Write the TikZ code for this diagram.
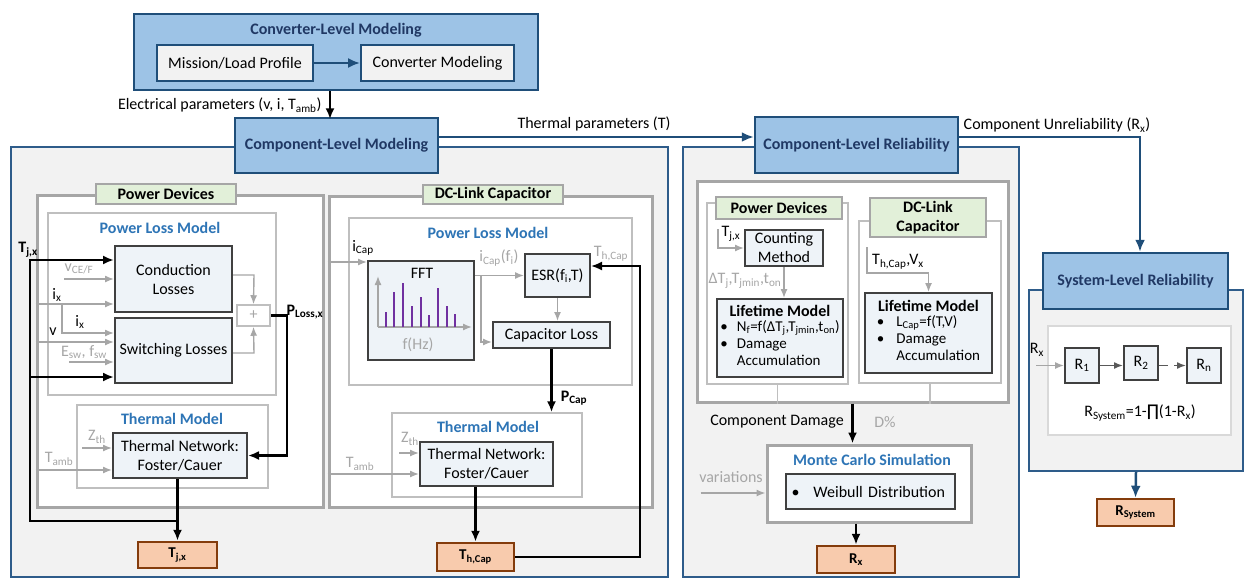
\documentclass[tikz,border=0pt]{standalone}
\usepackage{fontspec}
\setmainfont{Carlito}
\newfontfamily\symfont{DejaVu Sans}
\usetikzlibrary{arrows.meta,positioning}

\definecolor{hdrfill}{HTML}{9DC3E6}
\definecolor{hdrline}{HTML}{1F4E79}
\definecolor{hdrtext}{HTML}{203864}
\definecolor{pnlfill}{HTML}{F2F2F2}
\definecolor{pnlline}{HTML}{2E5C8A}
\definecolor{frmgray}{HTML}{A6A6A6}
\definecolor{litegray}{HTML}{BFBFBF}
\definecolor{syslight}{HTML}{D9D9D9}
\definecolor{tagfill}{HTML}{E2F0D9}
\definecolor{boxfill}{HTML}{EEF3F8}
\definecolor{boxline}{HTML}{404040}
\definecolor{outfill}{HTML}{F8CBAD}
\definecolor{outline}{HTML}{843C0C}
\definecolor{ttlblue}{HTML}{2E75B6}
\definecolor{sigray}{HTML}{A6A6A6}
\definecolor{darkgray}{HTML}{595959}
\definecolor{barpurple}{HTML}{7030A0}

\tikzset{
    sz/.style 2 args={
        minimum width=#1pt,
        minimum height=#2pt}
}

\begin{document}
\begin{tikzpicture}[x=1pt, y=-1pt,
        header/.style={
            rectangle,
            draw=hdrline, line width=2.5pt,
            fill=hdrfill,
            text=hdrtext, font=\bfseries,
            inner sep=0pt},
        convstep/.style={
            rectangle,
            draw=hdrline, line width=2pt,
            fill=pnlfill,
            inner sep=0pt},
        panel/.style={
            rectangle,
            draw=pnlline, line width=1.6pt,
            fill=pnlfill,
            inner sep=0pt},
        grayframe/.style={
            rectangle,
            draw=frmgray, line width=3pt,
            fill=white,
            inner sep=0pt},
        thinframe/.style={
            rectangle,
            draw=litegray, line width=1.5pt,
            fill=white,
            inner sep=0pt},
        tagbox/.style={
            rectangle,
            draw=frmgray, line width=1.5pt,
            fill=tagfill,
            font=\bfseries, align=center,
            inner sep=0pt},
        box/.style={
            rectangle,
            draw=boxline, line width=2pt,
            fill=boxfill,
            align=center,
            inner sep=0pt},
        outbox/.style={
            rectangle,
            draw=outline, line width=2.5pt,
            fill=outfill,
            font={\fontsize{15}{17}\selectfont\bfseries},
            inner sep=0pt},
        modeltitle/.style={
            text=ttlblue, font=\bfseries},
        graytext/.style={
            text=sigray},
        arrow/.style={
            line width=2.2pt,
            ->,
            >={Latex[length=11pt,width=9pt]}},
        grayarrow/.style={
            draw=sigray, line width=1.4pt,
            ->,
            >={Latex[length=9pt,width=7pt]}},
        bluearrow/.style={
            draw=hdrline, line width=2.5pt,
            ->,
            >={Latex[length=12pt,width=10pt]}},
        darkarrow/.style={
            draw=darkgray, line width=1.6pt,
            ->,
            >={Latex[length=9pt,width=7pt]}},
        graylink/.style={
            draw=litegray, line width=1.5pt},
        fftbar/.style={
            draw=barpurple, line width=2pt}
        ]
    \fontsize{16}{19}\selectfont
    \fill [white] (0,0) rectangle (1246,579);
    \useasboundingbox (0,0) rectangle (1246,579);

    % panels
    \node (leftpanel) [panel, sz={657}{430}] at (339.5,362) {};
    \node (relpanel) [panel, sz={336}{430}] at (851,362) {};
    \node (syspanel) [panel, sz={214}{181}] at (1136,380.5) {};

    % converter level
    \node (convbox) [header, sz={404}{76}] at (336,52) {};
    \node (convtitle) [text=hdrtext, font=\bfseries] at (336,30) {Converter-Level Modeling};
    \node (mission) [convstep, sz={156}{36}] at (235,63) {Mission/Load Profile};
    \node (convmod) [convstep, sz={153}{36}] at (437.5,63) {Converter Modeling};
    \draw [bluearrow, line width=2pt] (mission) -- (convmod);

    \node (complvl) [header, sz={203}{55}] at (336.5,145.5) {Component-Level Modeling};
    \node (rellvl) [header, sz={203}{56}] at (856.5,145) {Component-Level Reliability};
    \node (syslvl) [header, sz={185}{56}] at (1135.5,281) {System-Level Reliability};

    \draw [arrow] ([xshift=-6pt]convbox.south) -- ++(0,28);
    \node (elec) [anchor=east] at (327,105) {Electrical parameters (v, i, T\textsubscript{amb})};
    \draw [bluearrow] ([yshift=8.5pt]complvl.east) -- ([yshift=8pt]rellvl.west);
    \node (therm) at (594,124) {Thermal parameters (T)};
    \draw [bluearrow] ([yshift=8pt]rellvl.east) -| ([xshift=4.5pt]syslvl.north);
    \node (unrel) at (1057,125) {Component Unreliability (R\textsubscript{x})};

    % power devices
    \node (pdframe) [grayframe, sz={286}{312}] at (180,351) {};
    \node (pdtag) [tagbox, sz={140}{20}] at (166,194) {Power Devices};
    \node (plm1) [thinframe, sz={228}{182}] at (162,304) {};
    \node (plm1title) [modeltitle] at (160,228) {Power Loss Model};
    \node (cond) [box, sz={117}{66}] at (173.5,279) {Conduction\\Losses};
    \node (switch) [box, sz={117}{65}] at (173.5,350.5) {Switching Losses};
    \node (sum) [thinframe, sz={33}{21}, text=sigray] at (253.5,315.5) {+};
    \node (tm1) [thinframe, sz={191}{83}] at (172.5,446.5) {};
    \node (tm1title) [modeltitle] at (172,419) {Thermal Model};
    \node (net1) [box, sz={134}{45}] at (180,455.5) {Thermal Network:\\Foster/Cauer};
    \node (tjx) [outbox, sz={79}{26}] at (177.5,555) {T\textsubscript{j,x}};

    \draw [grayarrow] ([yshift=4pt]cond.east) -- ++(21,0) -- (sum.north);
    \draw [grayarrow] ([yshift=-2.5pt]switch.east) -- ++(21,0) -- (sum.south);

    \node (vce) [graytext] at (79,269) {v\textsubscript{CE/F}};
    \draw [grayarrow] ([xshift=-50pt]cond.west) -- (cond.west);
    \node (ix) at (57,295) {i\textsubscript{x}};
    \draw [grayarrow] (pdframe.west |- 0,304) -- ([yshift=-25pt]cond.west);
    \draw [grayarrow] (62,304) |- ([yshift=17.5pt]switch.west);
    \node (ix2) at (80,322) {i\textsubscript{x}};
    \node (vin) at (53,332) {v};
    \draw [grayarrow] (pdframe.west |- 0,342) -- ([yshift=8.5pt]switch.west);
    \node (esw) [graytext] at (84,352) {E\textsubscript{sw}, f\textsubscript{sw}};
    \draw [grayarrow] ([xshift=-45pt,yshift=-11.5pt]switch.west) -- ([yshift=-11.5pt]switch.west);
    \node (zth1) [graytext] at (97,437) {Z\textsubscript{th}};
    \draw [grayarrow] ([xshift=-30pt,yshift=7.5pt]net1.west) -- ([yshift=7.5pt]net1.west);
    \node (tamb1) [graytext] at (59,459) {T\textsubscript{amb}};
    \draw [grayarrow] (pdframe.west |- 0,470) -- ([yshift=-14.5pt]net1.west);

    \coordinate (tjloop) at (30,521);
    \node (tjlbl) [font=\bfseries] at (28,250) {T\textsubscript{j,x}};
    \draw [arrow] (net1.south -| tjx.north) -- (tjx.north);
    \draw [arrow] (tjx.north |- tjloop) -- (tjloop) |- ([yshift=19pt]cond.west);
    \draw [arrow] (tjloop |- 0,377) -- ([yshift=-26.5pt]switch.west);
    \draw [arrow] (sum.east) -- ++(16,0) |- (net1.east);
    \node (ploss) [font=\bfseries] at (305,312) {P\textsubscript{Loss,x}};

    % dc-link capacitor
    \node (dcframe) [grayframe, sz={323}{311}] at (490.5,351.5) {};
    \node (dctag) [tagbox, sz={140}{19}] at (493,194.5) {DC-Link Capacitor};
    \node (plm2) [thinframe, sz={283}{167}] at (490.5,301.5) {};
    \node (plm2title) [modeltitle] at (488,233) {Power Loss Model};
    \node (fft) [box, sz={106}{99}] at (421,310.5) {};
    \node (ffttitle) at (422,273) {FFT};
    \node (fhz) [graytext] at (418,345) {f(Hz)};
    \draw [grayarrow] (378,327) -- (378,276);
    \draw [grayarrow] (378,327) -- (472,327);
    \draw [fftbar] (386,327) -- (386,312) (394,327) -- (394,292) (403,327) -- (403,283)
        (412,327) -- (412,306) (421,327) -- (421,297) (429,327) -- (429,315)
        (438,327) -- (438,288) (447,327) -- (447,306) (455,327) -- (455,314);
    \node (esr) [box, sz={65}{43}] at (557.5,275.5) {ESR(f\textsubscript{i},T)};
    \node (caploss) [box, sz={117}{26}] at (551.5,335) {Capacitor Loss};
    \node (icap) at (363,248) {i\textsubscript{Cap}};
    \draw [grayarrow] (dcframe.west |- 0,262) -- (fft.west |- 0,262);
    \draw [grayarrow] (fft.east |- esr.west) -- (esr.west);
    \coordinate (fftsplit) at (481,275.5);
    \draw [grayarrow] (fftsplit) |- ([yshift=-7pt]caploss.west);
    \node (icapfi) [graytext] at (499,258) {i\textsubscript{Cap}(f\textsubscript{i})};
    \draw [grayarrow] (esr.south) -- (esr.south |- caploss.north);
    \node (thcaplbl) [graytext] at (611,254) {T\textsubscript{h,Cap}};

    \node (tm2) [thinframe, sz={190}{84}] at (487,455) {};
    \node (tm2title) [modeltitle] at (488,427) {Thermal Model};
    \node (net2) [box, sz={133}{44}] at (486.5,464) {Thermal Network:\\Foster/Cauer};
    \node (zth2) [graytext] at (410,439) {Z\textsubscript{th}};
    \draw [grayarrow] ([xshift=-20pt,yshift=11pt]net2.west) -- ([yshift=11pt]net2.west);
    \node (tamb2) [graytext] at (360,464) {T\textsubscript{amb}};
    \draw [grayarrow] (dcframe.west |- 0,474) -- ([yshift=-10pt]net2.west);
    \node (thcap) [outbox, sz={77}{28}] at (475.5,557) {T\textsubscript{h,Cap}};

    \draw [arrow] (caploss.south) -- (caploss.south |- tm2.north);
    \node (pcap) [font=\bfseries] at (574,398) {P\textsubscript{Cap}};
    \draw [arrow] (net2.south -| thcap.north) -- (thcap.north);
    \draw [arrow, line width=1.8pt] (thcap.east) -- (640,557) |- ([yshift=9.5pt]esr.east);

    % component-level reliability
    \node (relframe) [grayframe, sz={311}{221}] at (852.5,291.5) {};
    \node (pd2) [thinframe, sz={141}{181}] at (777.5,293.5) {};
    \node (pd2tag) [tagbox, sz={126}{22}] at (779,208) {Power Devices};
    \node (count) [box, sz={78}{36}] at (784,248) {Counting\\Method};
    \node (tj2) at (731,234) {T\textsubscript{j,x}};
    \draw [grayarrow] (718,229) |- (count.west);
    \node (life1) [box, sz={126}{78}] at (780,338) {\textbf{Lifetime Model}\\[2pt]
        {\fontsize{15}{17}\selectfont
        \begin{tabular}{@{}l@{\hspace{9pt}}l@{}}
        \textbullet & N\textsubscript{f}=f(ΔT\textsubscript{j},T\textsubscript{jmin},t\textsubscript{on})\\
        \textbullet & Damage\\
        & Accumulation
        \end{tabular}}};
    \draw [grayarrow] (count.south) -- (count.south |- life1.north);
    \node (dtj) [graytext] at (745,281) {ΔT\textsubscript{j},T\textsubscript{jmin},t\textsubscript{on}};

    \node (dc2) [thinframe, sz={142}{162}] at (930,302) {};
    \node (dc2tag) [tagbox, sz={116}{39}] at (928,217.5) {DC-Link\\Capacitor};
    \node (life2) [box, sz={127}{80}] at (928.5,333) {\textbf{Lifetime Model}\\[2pt]
        {\fontsize{15}{17}\selectfont
        \begin{tabular}{@{}l@{\hspace{12pt}}l@{}}
        \textbullet & L\textsubscript{Cap}=f(T,V)\\
        \textbullet & Damage\\
        & Accumulation
        \end{tabular}}};
    \draw [grayarrow] (867,247) |- (life2.north |- 0,273) -- (life2.north);
    \node (thv) at (898,262) {T\textsubscript{h,Cap},V\textsubscript{x}};
    \draw [graylink] (pd2.south) -- (pd2.south |- relframe.south);
    \draw [graylink] (dc2.south) -- (dc2.south |- relframe.south);

    \node (mc) [grayframe, sz={204}{77}] at (869,483.5) {};
    \node (mctitle) [modeltitle] at (872,460) {Monte Carlo Simulation};
    \node (weibull) [box, sz={169}{35}, text width=158pt, align=left] at (870.5,491.5) {\textbullet\hspace{14pt}Weibull Distribution};
    \draw [arrow] (relframe.south) -- (relframe.south |- mc.north);
    \node (compdmg) at (777,422) {Component Damage};
    \node (dpct) [graytext] at (885,422) {D\%};
    \node (variations) [graytext] at (731,477) {variations};
    \draw [grayarrow] ([xshift=-65pt,yshift=-9.5pt]mc.west) -- ([yshift=-9.5pt]mc.west);
    \node (rx) [outbox, sz={78}{27}] at (856,559.5) {R\textsubscript{x}};
    \draw [arrow] (mc.south -| rx.north) -- (rx.north);

    % system-level reliability
    \node (sysin) [rectangle, draw=syslight, line width=2pt, fill=white, sz={183}{109}] at (1139.5,380.5) {};
    \node (r1) [box, sz={34}{35}] at (1082,365.5) {R\textsubscript{1}};
    \node (r2) [box, sz={34}{34}] at (1141,363) {R\textsubscript{2}};
    \node (rn) [box, sz={34}{35}] at (1204,365.5) {R\textsubscript{n}};
    \node (rxin) at (1037,350) {R\textsubscript{x}};
    \draw [grayarrow] ([xshift=-28pt]r1.west) -- (r1.west);
    \draw [darkarrow] (r1.east) -- (r1.east -| r2.west);
    \draw [darkarrow, dash pattern=on 9pt off 6pt on 4pt off 1pt] (r2.east |- rn.west) -- (rn.west);
    \node (formula) at (1140,413) {R\textsubscript{System}=1-{\symfont ∏}(1-R\textsubscript{x})};
    \node (rsys) [outbox, sz={77}{27}] at (1135.5,512.5) {R\textsubscript{System}};
    \draw [bluearrow] (syspanel.south) -- (rsys.north);

\end{tikzpicture}
\end{document}
